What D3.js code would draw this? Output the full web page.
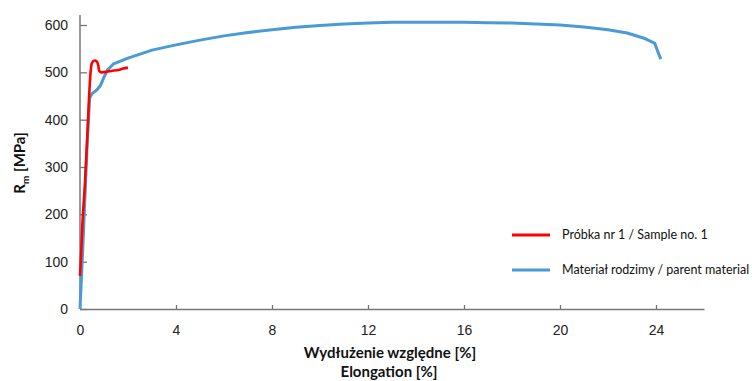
<!DOCTYPE html>
<html>
<head>
<meta charset="utf-8">
<script src="https://cdn.jsdelivr.net/npm/d3@7"></script>
<style>
    body { margin: 0; background: #fff; }
    svg { display: block; font-family: Lato, "Open Sans", sans-serif; }
    .tick text { fill: #222; font-size: 14px; }
    .axis-title { font-weight: bold; font-size: 15px; fill: #111; }
    .legend text { font-size: 12.5px; fill: #111; }
</style>
</head>
<body>
<div id="chart"></div>
<script>
// elongation [%] / stress [MPa]
var sampleElong = [0, 0.05, 0.1, 0.2, 0.3, 0.38, 0.45, 0.5, 0.6, 0.7, 0.76, 0.8, 0.9, 1.1, 1.3, 1.6, 1.8, 2.0];
var sampleStress = [70, 120, 180, 260, 360, 450, 505, 520, 525, 523, 515, 503, 500, 501, 503, 505, 508, 510];

var parentElong = [0, 0.1, 0.2, 0.3, 0.4, 0.5, 0.7, 0.85, 1.0, 1.15, 1.4, 2.0, 3, 4, 5, 6, 7, 8, 9, 10, 11, 12, 13, 14, 15, 16, 17, 18, 19, 20, 21, 22, 22.8, 23.5, 23.95, 24.05, 24.2];
var parentStress = [0, 110, 230, 350, 445, 455, 463, 472, 490, 505, 518, 530, 547, 558, 568, 577, 584, 590, 595, 599, 602, 604, 606, 606, 606, 606, 605, 604, 602, 600, 596, 590, 583, 572, 561, 547, 528];

var xTicks = [0, 4, 8, 12, 16, 20, 24];
var yTicks = [0, 100, 200, 300, 400, 500, 600];
var seriesNames = ["Próbka nr 1 / Sample no. 1", "Materiał rodzimy / parent material"];
var seriesColors = ["#ff0000", "#4a9ad6"];

document.addEventListener('DOMContentLoaded', main);

function main() {
    var width = 752, height = 381;
    var left = 80, right = 704, top = 25, bottom = 309;

    var svg = d3.select("#chart").append("svg")
        .attr("width", width)
        .attr("height", height);

    var x = d3.scaleLinear().domain([0, 26]).range([left, right]);
    var y = d3.scaleLinear().domain([0, 600]).range([bottom, top]);

    var xAxis = svg.append("g")
        .attr("transform", "translate(0," + bottom + ")")
        .call(d3.axisBottom(x).tickValues(xTicks).tickSizeInner(-4).tickSizeOuter(0).tickPadding(16));
    var yAxis = svg.append("g")
        .attr("transform", "translate(" + left + ",0)")
        .call(d3.axisLeft(y).tickValues(yTicks).tickSizeInner(-7).tickSizeOuter(0).tickPadding(12));

    [xAxis, yAxis].forEach(function (ax) {
        ax.select(".domain").attr("stroke", "#777").attr("stroke-width", 1.5);
        ax.selectAll(".tick line").attr("stroke", "#777").attr("stroke-width", 1.3);
    });
    // y axis line continues slightly above 600
    yAxis.select(".domain").attr("d", "M0," + bottom + "V" + (top - 10));

    var line = d3.line()
        .x(function (d) { return x(d[0]); })
        .y(function (d) { return y(d[1]); });

    var parent = d3.zip(parentElong, parentStress);
    var sample = d3.zip(sampleElong, sampleStress);

    svg.append("path")
        .datum(parent)
        .attr("fill", "none")
        .attr("stroke", seriesColors[1])
        .attr("stroke-width", 3)
        .attr("d", line);

    svg.append("path")
        .datum(sample)
        .attr("fill", "none")
        .attr("stroke", seriesColors[0])
        .attr("stroke-width", 2.6)
        .attr("d", line.curve(d3.curveMonotoneX));

    // axis titles
    var yt = svg.append("text")
        .attr("class", "axis-title")
        .attr("transform", "translate(25,163) rotate(-90)")
        .attr("text-anchor", "middle");
    yt.append("tspan").text("R");
    yt.append("tspan").attr("font-size", "10px").attr("dy", 4).text("m");
    yt.append("tspan").attr("dy", -4).text(" [MPa]");

    svg.append("text")
        .attr("class", "axis-title")
        .attr("x", 390).attr("y", 358)
        .attr("text-anchor", "middle")
        .text("Wydłużenie względne [%]");
    svg.append("text")
        .attr("class", "axis-title")
        .attr("x", 389).attr("y", 377)
        .attr("text-anchor", "middle")
        .text("Elongation [%]");

    // legend
    var legend = svg.append("g").attr("class", "legend");
    var items = legend.selectAll("g")
        .data(seriesNames)
        .enter().append("g")
        .attr("transform", function (d, i) { return "translate(512," + (235 + i * 35) + ")"; });
    items.append("line")
        .attr("x1", 0).attr("x2", 38)
        .attr("stroke", function (d, i) { return seriesColors[i]; })
        .attr("stroke-width", 3);
    items.append("text")
        .attr("x", 50).attr("dy", "0.35em")
        .text(function (d) { return d; })
        .each(function () {
            // keep the long label inside the window
            var maxW = width - 2 - (512 + 50);
            if (this.getComputedTextLength() > maxW) {
                d3.select(this).attr("textLength", maxW).attr("lengthAdjust", "spacingAndGlyphs");
            }
        });
}
</script>
</body>
</html>
